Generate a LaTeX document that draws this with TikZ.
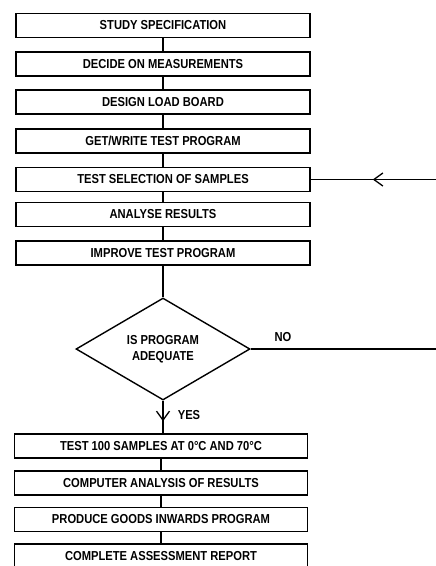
\documentclass[tikz,border=0pt]{standalone}
\usepackage{fontspec}
\setmainfont{Liberation Sans}[FakeStretch=0.86]
\usetikzlibrary{shapes.geometric,arrows.meta,decorations.markings}
\begin{document}
\begin{tikzpicture}[x=1pt,y=-1pt,
  every node/.style={font=\fontsize{13}{15.5}\selectfont\bfseries},
  stepbox/.style={draw,line width=1.4pt,minimum width=294pt,minimum height=24pt,inner sep=0pt},
  decision/.style={draw,line width=1.4pt,diamond,minimum width=174pt,minimum height=102pt,inner sep=0pt,align=center},
  link/.style={line width=1.4pt},
  midarrow/.style={postaction={decorate},decoration={markings,mark=at position #1 with {\arrow{Straight Barb[length=9pt,width=13pt,line width=1.3pt]}}}}
]
\useasboundingbox (0,0) rectangle (436,566);
\node[stepbox] (s1) at (163,25.5) {STUDY SPECIFICATION};
\node[stepbox] (s2) at (163,64) {DECIDE ON MEASUREMENTS};
\node[stepbox] (s3) at (163,102) {DESIGN LOAD BOARD};
\node[stepbox] (s4) at (163,141) {GET/WRITE TEST PROGRAM};
\node[stepbox] (s5) at (163,179.5) {TEST SELECTION OF SAMPLES};
\node[stepbox] (s6) at (163,214.5) {ANALYSE RESULTS};
\node[stepbox] (s7) at (163,253) {IMPROVE TEST PROGRAM};
\node[decision] (d) at (163,349) {IS PROGRAM\\ADEQUATE};
\node[stepbox,minimum width=293pt] (s8) at (161,446) {TEST 100 SAMPLES AT 0\textdegree C AND 70\textdegree C};
\node[stepbox,minimum width=293pt] (s9) at (161,483) {COMPUTER ANALYSIS OF RESULTS};
\node[stepbox,minimum width=293pt] (s10) at (161,519.5) {PRODUCE GOODS INWARDS PROGRAM};
\node[stepbox,minimum width=293pt] (s11) at (161,556) {COMPLETE ASSESSMENT REPORT};
\coordinate (in) at (440,179.5);
\coordinate (no) at (440,349);
\draw[link] (s1) -- (s2);
\draw[link] (s2) -- (s3);
\draw[link] (s3) -- (s4);
\draw[link] (s4) -- (s5);
\draw[link] (s5) -- (s6);
\draw[link] (s6) -- (s7);
\draw[link] (s7.south) -- (d.north);
\draw[link,midarrow=0.63] (d.south) -- (s8.north -| d.south);
\draw[link] (s8) -- (s9);
\draw[link] (s9) -- (s10);
\draw[link] (s10) -- (s11);
\draw[link,midarrow=0.52] (in) -- (s5.east);
\draw[link] (d.east) -- (no);
\node (nolab) at (283,337) {NO};
\node (yeslab) at (189,415) {YES};
\end{tikzpicture}
\end{document}
